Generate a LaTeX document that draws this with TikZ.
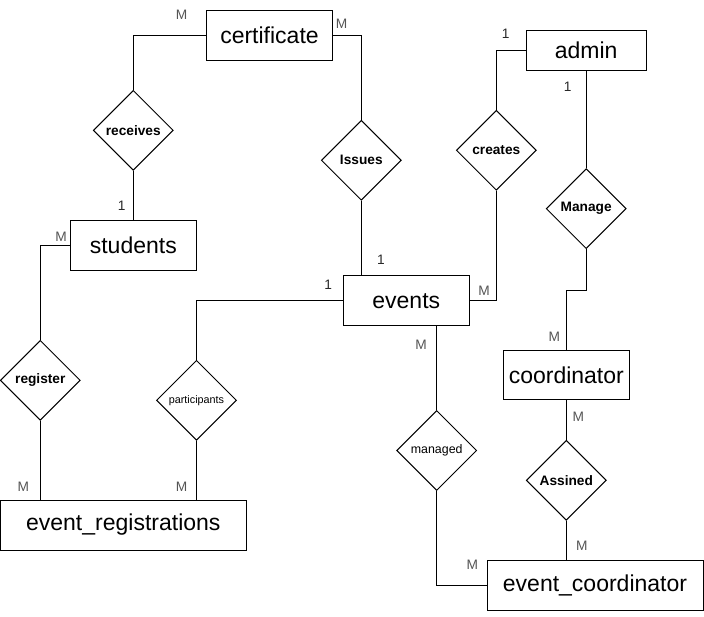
\documentclass[tikz,border=0pt]{standalone}
\usepackage{fontspec}
\setmainfont{Liberation Sans}
\usetikzlibrary{shapes.geometric}
\definecolor{mgray}{RGB}{85,85,85}
\definecolor{onecol}{RGB}{40,40,40}
\tikzset{
  entity/.style={draw, rectangle, line width=1pt, inner sep=0pt, font=\fontsize{23}{27}\selectfont},
  rel/.style={draw, diamond, line width=1pt, inner sep=0pt, minimum width=80pt, minimum height=80pt, font=\fontsize{13.7}{16}\selectfont\bfseries},
  conn/.style={line width=1pt},
  cardM/.style={text=mgray, inner sep=0pt, font=\fontsize{13.7}{16}\selectfont},
  card1/.style={text=onecol, inner sep=0pt, font=\fontsize{13.7}{16}\selectfont}
}
\begin{document}
\begin{tikzpicture}[x=1pt,y=-1pt]
\useasboundingbox (0,0) rectangle (704,616);
% entities
\node[entity, minimum width=125.6pt, minimum height=50pt] (certificate) at (269.5,35.3) {certificate};
\node[entity, minimum width=126pt, minimum height=49.7pt] (students) at (133.3,245.2) {students};
\node[entity, minimum width=126pt, minimum height=50pt] (events) at (406.3,300.7) {events};
\node[entity, minimum width=120.3pt, minimum height=39.6pt] (admin) at (586.2,50.5) {admin};
\node[entity, minimum width=126pt, minimum height=49.3pt] (coordinator) at (566.3,375.3) {coordinator};
\node[entity, minimum width=245.7pt, minimum height=50pt] (eventreg) at (123.3,525) {event\_registrations};
\node[entity, minimum width=216pt, minimum height=50pt] (eventcoord) at (595,585) {event\_coordinator};
% relationships
\node[rel] (receives) at (133.3,130.3) {receives};
\node[rel] (issues) at (361.3,160.3) {Issues};
\node[rel] (creates) at (496.3,150.3) {creates};
\node[rel] (manage) at (586.2,208.7) {Manage};
\node[rel] (register) at (40.3,380.3) {register};
\node[rel, font=\fontsize{10.8}{12}\selectfont] (participants) at (196.5,400.3) {participants};
\node[rel, font=\fontsize{12.4}{14}\selectfont] (managed) at (436.7,450.5) {managed};
\node[rel] (assined) at (566.3,480.3) {Assined};
\coordinate (mbend) at (586.2,290);
% connectors
\draw[conn] (certificate.west) -| (receives.north);
\draw[conn] (receives.south) -- (students.north);
\draw[conn] (certificate.east) -| (issues.north);
\draw[conn] (issues.south) -- (issues.south |- events.north);
\draw[conn] (admin.west) -| (creates.north);
\draw[conn] (creates.south) |- (events.east);
\draw[conn] (admin.south) -- (manage.north);
\draw[conn] (manage.south) -- (mbend) -| (coordinator.north);
\draw[conn] (coordinator.south) -- (assined.north);
\draw[conn] (assined.south) -- (assined.south |- eventcoord.north);
\draw[conn] (managed.north) -- (managed.north |- events.south);
\draw[conn] (managed.south) |- (eventcoord.west);
\draw[conn] (students.west) -| (register.north);
\draw[conn] (register.south) -- (register.south |- eventreg.north);
\draw[conn] (events.west) -| (participants.north);
\draw[conn] (participants.south) -- (participants.south |- eventreg.north);
% cardinalities
\node[cardM] (c1) at (181.7,15) {M};
\node[cardM] (c2) at (341.7,24) {M};
\node[card1] (c3) at (121.7,206) {1};
\node[cardM] (c4) at (61,237) {M};
\node[card1] (c5) at (381,260) {1};
\node[card1] (c6) at (505.7,33.3) {1};
\node[card1] (c7) at (567.7,86.7) {1};
\node[cardM] (c8) at (484,290.7) {M};
\node[card1] (c9) at (328.3,285) {1};
\node[cardM] (c10) at (23.3,486.7) {M};
\node[cardM] (c11) at (181.7,486.7) {M};
\node[cardM] (c12) at (421,345) {M};
\node[cardM] (c13) at (554.3,336.7) {M};
\node[cardM] (c14) at (578.3,416.7) {M};
\node[cardM] (c15) at (581.7,545.7) {M};
\node[cardM] (c16) at (472.3,565) {M};
\end{tikzpicture}
\end{document}
